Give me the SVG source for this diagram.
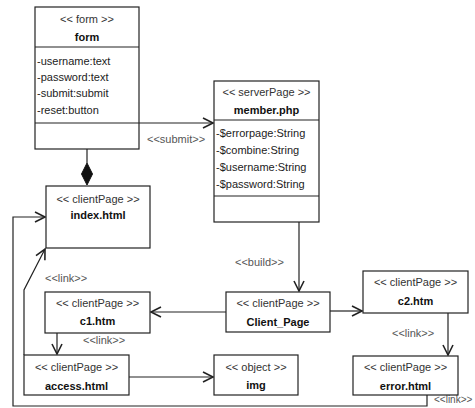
<svg xmlns="http://www.w3.org/2000/svg" width="475" height="408" viewBox="0 0 475 408">
<defs>
<style>
.box{fill:#fff;stroke:#222;stroke-width:1.2}
.div{stroke:#222;stroke-width:1.2}
.st{font-family:"Liberation Sans",Arial,sans-serif;font-size:11px;fill:#333;text-anchor:middle}
.nm{font-family:"Liberation Sans",Arial,sans-serif;font-size:11px;font-weight:bold;fill:#111;text-anchor:middle}
.at{font-family:"Liberation Sans",Arial,sans-serif;font-size:11px;fill:#222}
.lb{font-family:"Liberation Sans",Arial,sans-serif;font-size:11px;fill:#555}
.ln{fill:none;stroke:#222;stroke-width:1.2}
</style>
<marker id="arr" markerUnits="userSpaceOnUse" markerWidth="14" markerHeight="14" refX="11" refY="6" orient="auto">
<path d="M1,1 L11,6 L1,11" fill="none" stroke="#222" stroke-width="1.6"/>
</marker>
</defs>
<rect width="475" height="408" fill="#fff"/>

<g id="connectors">
<line class="ln" x1="139" y1="123" x2="213" y2="123" marker-end="url(#arr)"/>
<text class="lb" x="147" y="143">&lt;&lt;submit&gt;&gt;</text>
<line class="ln" x1="87" y1="149" x2="87" y2="163"/>
<polygon points="87,163 92.5,174 87,185 81.5,174" fill="#111" stroke="#111"/>
<line class="ln" x1="299" y1="222" x2="299" y2="291" marker-end="url(#arr)"/>
<text class="lb" x="235" y="266">&lt;&lt;build&gt;&gt;</text>
<line class="ln" x1="226" y1="312" x2="151" y2="312" marker-end="url(#arr)"/>
<line class="ln" x1="330" y1="311" x2="362" y2="311" marker-end="url(#arr)"/>
<line class="ln" x1="448" y1="313" x2="448" y2="355" marker-end="url(#arr)"/>
<text class="lb" x="392" y="337">&lt;&lt;link&gt;&gt;</text>
<line class="ln" x1="57" y1="333" x2="57" y2="354" marker-end="url(#arr)"/>
<text class="lb" x="83" y="344">&lt;&lt;link&gt;&gt;</text>
<line class="ln" x1="129" y1="377" x2="213" y2="377" marker-end="url(#arr)"/>
<polyline class="ln" points="24,355 24,290 45,249" marker-end="url(#arr)"/>
<text class="lb" x="45" y="282">&lt;&lt;link&gt;&gt;</text>
<polyline class="ln" points="427,395 427,406 13,406 13,217 45,217" marker-end="url(#arr)"/>
<text class="lb" x="434" y="403" style="font-size:10px">&lt;&lt;link&gt;&gt;</text>
</g>

<g id="form">
<rect class="box" x="35" y="7" width="104" height="142"/>
<line class="div" x1="35" y1="47" x2="139" y2="47"/>
<line class="div" x1="35" y1="123" x2="139" y2="123"/>
<text class="st" x="87" y="23">&lt;&lt; form &gt;&gt;</text>
<text class="nm" x="87" y="41">form</text>
<text class="at" x="37" y="65">-username:text</text>
<text class="at" x="37" y="81">-password:text</text>
<text class="at" x="37" y="97">-submit:submit</text>
<text class="at" x="37" y="114">-reset:button</text>
</g>

<g id="member">
<rect class="box" x="214" y="81" width="105" height="141"/>
<line class="div" x1="214" y1="120" x2="319" y2="120"/>
<line class="div" x1="214" y1="196" x2="319" y2="196"/>
<text class="st" x="266.5" y="96">&lt;&lt; serverPage &gt;&gt;</text>
<text class="nm" x="266.5" y="114">member.php</text>
<text class="at" x="216" y="137">-$errorpage:String</text>
<text class="at" x="216" y="154">-$combine:String</text>
<text class="at" x="216" y="171">-$username:String</text>
<text class="at" x="216" y="188">-$password:String</text>
</g>

<g id="index">
<rect class="box" x="46" y="186" width="104" height="62"/>
<text class="st" x="98" y="203">&lt;&lt; clientPage &gt;&gt;</text>
<text class="nm" x="98" y="219">index.html</text>
</g>

<g id="c1">
<rect class="box" x="45" y="292" width="105" height="41"/>
<text class="st" x="97.5" y="307">&lt;&lt; clientPage &gt;&gt;</text>
<text class="nm" x="97.5" y="325">c1.htm</text>
</g>

<g id="clientpage">
<rect class="box" x="226" y="292" width="104" height="40"/>
<text class="st" x="278" y="307">&lt;&lt; clientPage &gt;&gt;</text>
<text class="nm" x="278" y="326">Client_Page</text>
</g>

<g id="c2">
<rect class="box" x="363" y="271" width="105" height="42"/>
<text class="st" x="415.5" y="286">&lt;&lt; clientPage &gt;&gt;</text>
<text class="nm" x="415.5" y="305">c2.htm</text>
</g>

<g id="access">
<rect class="box" x="24" y="355" width="105" height="40"/>
<text class="st" x="76.5" y="371">&lt;&lt; clientPage &gt;&gt;</text>
<text class="nm" x="76.5" y="390">access.html</text>
</g>

<g id="img">
<rect class="box" x="214" y="355" width="84" height="40"/>
<text class="st" x="256" y="371">&lt;&lt; object &gt;&gt;</text>
<text class="nm" x="256" y="389">img</text>
</g>

<g id="error">
<rect class="box" x="353" y="356" width="105" height="39"/>
<text class="st" x="405.5" y="371">&lt;&lt; clientPage &gt;&gt;</text>
<text class="nm" x="405.5" y="390">error.html</text>
</g>
</svg>
